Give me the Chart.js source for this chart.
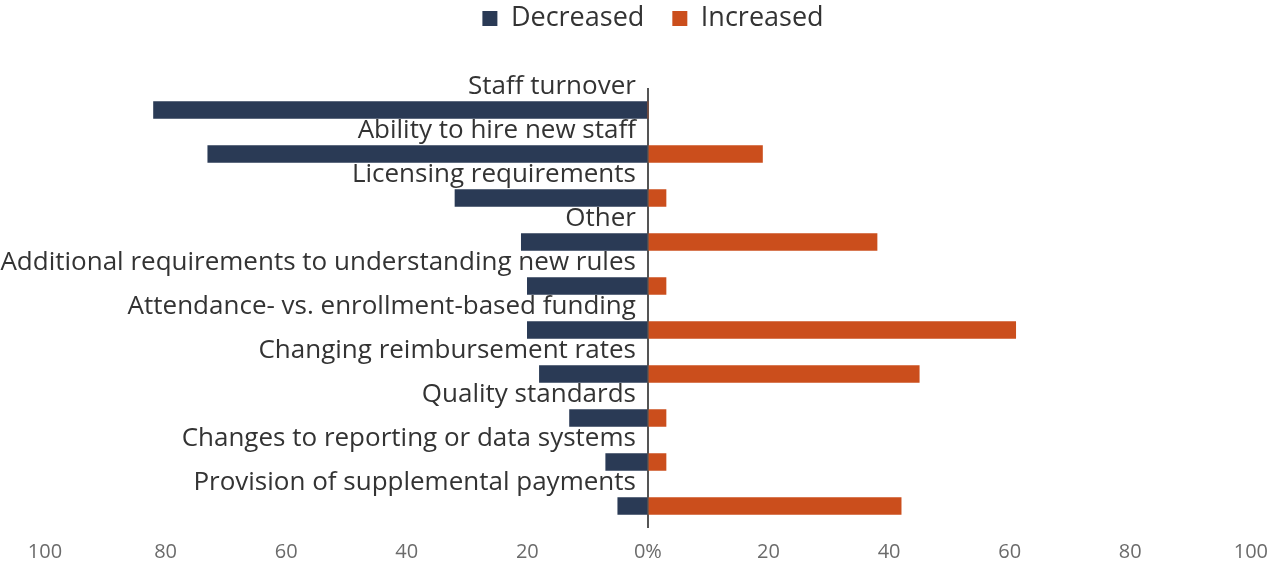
<!DOCTYPE html>
<html>
<head>
<meta charset="utf-8">
<script src="https://cdn.jsdelivr.net/npm/chart.js@4"></script>
<style>
html,body{margin:0;padding:0;background:#fff;}
#wrap{width:1280px;height:568px;position:relative;}
</style>
</head>
<body>
<div id="wrap"><canvas id="c" width="1280" height="568"></canvas></div>
<script>
const categories = [
  "Staff turnover",
  "Ability to hire new staff",
  "Licensing requirements",
  "Other",
  "Additional requirements to understanding new rules",
  "Attendance- vs. enrollment-based funding",
  "Changing reimbursement rates",
  "Quality standards",
  "Changes to reporting or data systems",
  "Provision of supplemental payments"
];
const decreased = [82, 73, 32, 21, 20, 20, 18, 13, 7, 5];
const increased = [0, 19, 3, 38, 3, 61, 45, 3, 3, 42];
const xTicks = [-100, -80, -60, -40, -20, 0, 20, 40, 60, 80, 100];
const seriesNames = ["Decreased", "Increased"];

const FONT = "'Open Sans', sans-serif";

const labelPlugin = {
  id: 'catLabels',
  afterDatasetsDraw(chart) {
    const ctx = chart.ctx;
    const xs = chart.scales.x, ys = chart.scales.y;
    const x0 = xs.getPixelForValue(0);
    ctx.save();
    ctx.font = "26px " + FONT;
    ctx.fillStyle = "#333333";
    ctx.textAlign = "right";
    ctx.textBaseline = "alphabetic";
    categories.forEach((c, i) => {
      const yc = ys.getPixelForValue(i);
      ctx.fillText(c, x0 - 12, yc - 8.5 - 8);
    });
    ctx.restore();
  }
};

const legendSpace = {
  id: 'legendSpace',
  beforeInit(chart) {
    const origFit = chart.legend.fit;
    chart.legend.fit = function () {
      origFit.call(this);
      this.height = 111;
    };
  }
};

new Chart(document.getElementById('c'), {
  type: 'bar',
  data: {
    labels: categories,
    datasets: [
      { label: seriesNames[0], data: decreased.map(v => -v), backgroundColor: '#2a3a55', barThickness: 17 },
      { label: seriesNames[1], data: increased, backgroundColor: '#cb4e1c', barThickness: 17 }
    ]
  },
  options: {
    indexAxis: 'y',
    responsive: false,
    animation: false,
    layout: { padding: { left: 45, right: 19, top: -23, bottom: -8 } },
    plugins: {
      tooltip: { enabled: false },
      legend: {
        position: 'top',
        labels: {
          font: { family: FONT, size: 27 },
          color: '#333333',
          boxWidth: 15,
          boxHeight: 15,
          padding: 28
        }
      }
    },
    scales: {
      x: {
        min: -100, max: 100,
        afterBuildTicks(axis) { axis.ticks = xTicks.map(v => ({ value: v })); },
        ticks: {
          font: { family: FONT, size: 20 },
          color: '#6b6b6b',
          padding: 12,
          callback: v => v === 0 ? '0%' : String(Math.abs(v)),
          maxRotation: 0
        },
        grid: {
          drawTicks: false,
          color: ctx => (ctx.tick && ctx.tick.value === 0) ? '#555555' : 'rgba(0,0,0,0)',
          lineWidth: 2
        },
        border: { display: false }
      },
      y: {
        stacked: true,
        display: false
      }
    }
  },
  plugins: [labelPlugin, legendSpace]
});
</script>
</body>
</html>
